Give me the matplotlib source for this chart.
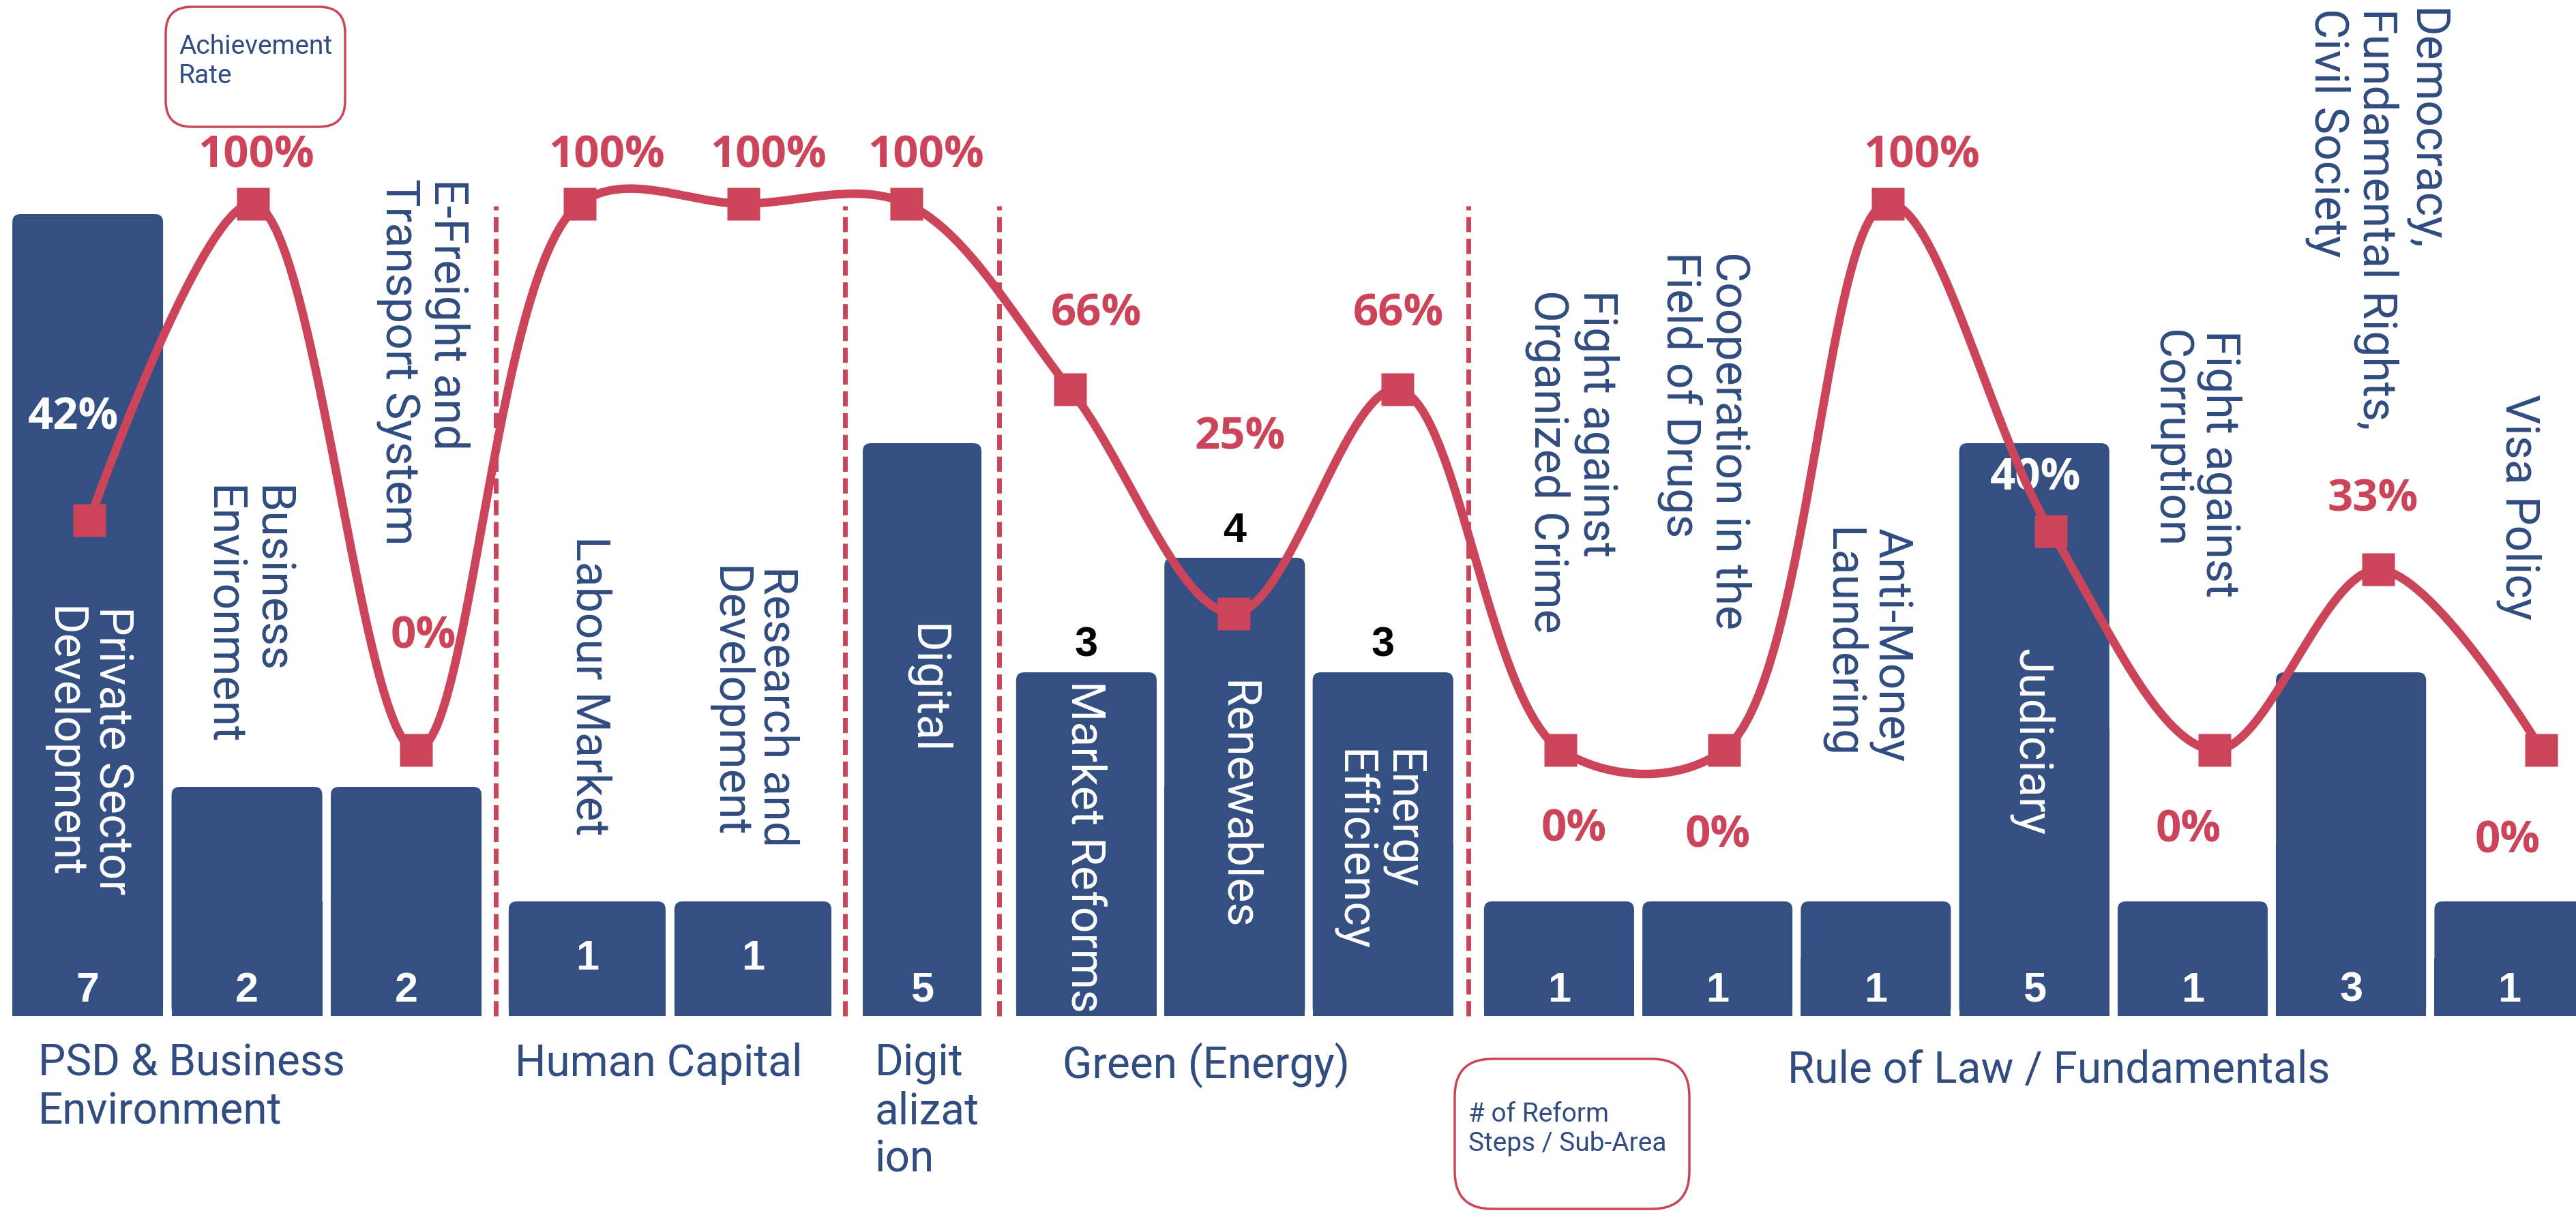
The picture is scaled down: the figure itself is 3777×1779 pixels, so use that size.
import numpy as np
import matplotlib.pyplot as plt
from matplotlib.patches import FancyBboxPatch, Rectangle

# ---- data ----
groups = ["PSD & Business\nEnvironment", "Human Capital", "Digit\nalizat\nion",
          "Green (Energy)", "Rule of Law / Fundamentals"]
group_size = [3, 2, 1, 3, 7]
sub_areas = ["Private Sector\nDevelopment", "Business\nEnvironment",
             "E-Freight and\nTransport System", "Labour Market",
             "Research and\nDevelopment", "Digital", "Market Reforms",
             "Renewables", "Energy\nEfficiency", "Fight against\nOrganized Crime",
             "Cooperation in the\nField of Drugs", "Anti-Money\nLaundering",
             "Judiciary", "Fight against\nCorruption",
             "Democracy,\nFundamental Rights,\nCivil Society", "Visa Policy"]
steps = [7, 2, 2, 1, 1, 5, 3, 4, 3, 1, 1, 1, 5, 1, 3, 1]
rates = [42, 100, 0, 100, 100, 100, 66, 25, 66, 0, 0, 100, 40, 0, 33, 0]

# ---- layout / style ----
W, H = 3777, 1779
NAVY = "#344F81"
TEXT = "#304C80"
RED = "#CC4459"

g_start = [-0.01, 3.045, 5.094, 6.099, 8.99]
g_pitch = [0.974, 1.014, 1.0, 0.907, 0.969]
g_width = [0.922, 0.96, 0.726, 0.86, 0.918]
sep_x = [2.487, 4.622, 5.565, 8.436]

sub_x = [-0.01, 0.96, 2.04, 3.06, 4.06, 5.12, 6.09, 7.02, 7.88, 9.07, 9.88,
         10.87, 11.88, 12.88, 13.99, 14.86]
sub_top = [3.58, 4.63, 7.31, 4.19, 3.93, 3.42, 2.93, 2.93, 2.33, 6.34, 6.67,
           4.26, 3.21, 5.99, 8.80, 5.43]
sub_white = [0, 5, 6, 7, 8, 12]

pct_off = [(-23, 157), (5, 76), (10, 172), (39, 76), (37, 76), (28, 76),
           (38, 117), (9, 264), (2, 117), (19, -111), (-9, -120), (50, 76),
           (-23, 84), (-38, -112), (-8, 109), (-50, -128)]
pct_white = [0, 12]

grp_pos = [(56, 1529), (755, 1529), (1283, 1529), (1558, 1529), (2621, 1539)]

plt.rcParams['font.family'] = ['Roboto', 'DejaVu Sans']

fig = plt.figure(figsize=(W / 100, H / 100), dpi=100)
ax = fig.add_axes([0, 0, 1, 1])
ax.set_xlim(-0.5465, 15.211)
ax.set_ylim(-1.72, 8.869)
ax.axis('off')
ax2 = ax.twinx()
ax2.set_ylim(-84.8, 137.3)
ax2.axis('off')

# bar positions from group layout
xb, wb, gid = [], [], []
for g, n in enumerate(group_size):
    for k in range(n):
        xb.append(g_start[g] + g_pitch[g] * k)
        wb.append(g_width[g])
        gid.append(g)

asp = 239.7 / 168.0
for x, w, h in zip(xb, wb, steps):
    ax.add_patch(FancyBboxPatch((x - w / 2, 0), w, h,
                                boxstyle="round,pad=0,rounding_size=0.05",
                                mutation_aspect=asp, fc=NAVY, ec='none', zorder=2))
    ax.add_patch(Rectangle((x - w / 2, 0), w, h / 2, fc=NAVY, ec='none', zorder=2))

# separators
for sx in sep_x:
    ax.plot([sx, sx], [0, 7.07], color=RED, lw=5, dashes=(3.2, 1.4), zorder=1)

# count labels
for i, (x, h) in enumerate(zip(xb, steps)):
    if gid[i] == 3:
        ax.text(x, h + 0.23, str(h), ha='center', va='center', fontsize=44,
                fontweight='bold', color='black', family='Liberation Sans', zorder=3)
    else:
        yy = 0.5 if gid[i] == 1 else 0.22
        ax.text(x, yy, str(h), ha='center', va='center', fontsize=44,
                fontweight='bold', color='white', family='Liberation Sans', zorder=3)

# sub-area labels
for i, s in enumerate(sub_areas):
    ax.text(sub_x[i], sub_top[i], s, rotation=270, ha='center', va='top',
            multialignment='left', fontsize=49, linespacing=1.1,
            color='white' if i in sub_white else TEXT, zorder=3)


# smooth achievement line: centripetal Catmull-Rom in screen space
def catmull_rom(pts, alpha=0.5, n=40):
    p = np.vstack([pts[0], pts, pts[-1]])
    t = np.linspace(0, 1, n)[:, None]
    out = []
    for k in range(1, len(p) - 2):
        p0, p1, p2, p3 = p[k - 1], p[k], p[k + 1], p[k + 2]
        d01 = np.hypot(*(p1 - p0))
        d12 = np.hypot(*(p2 - p1))
        d23 = np.hypot(*(p3 - p2))
        c1, c2 = p1.copy(), p2.copy()
        if d01 > 1e-9:
            la, l2a, ma, m2a = d01 ** alpha, d01 ** (2 * alpha), d12 ** alpha, d12 ** (2 * alpha)
            a = 2 * l2a + 3 * la * ma + m2a
            nn = 3 * la * (la + ma)
            c1 = (p1 * a - p0 * m2a + p2 * l2a) / nn
        if d23 > 1e-9:
            la, l2a, ma, m2a = d23 ** alpha, d23 ** (2 * alpha), d12 ** alpha, d12 ** (2 * alpha)
            b = 2 * l2a + 3 * la * ma + m2a
            mm = 3 * la * (la + ma)
            c2 = (p2 * b + p1 * l2a - p3 * m2a) / mm
        seg = ((1 - t) ** 3) * p1 + 3 * ((1 - t) ** 2) * t * c1 \
            + 3 * (1 - t) * t ** 2 * c2 + t ** 3 * p2
        out.append(seg)
    return np.vstack(out)


xi = np.arange(len(rates), dtype=float)
yi = np.array(rates, dtype=float)
scr = ax2.transData.transform(np.column_stack([xi, yi]))
curve = ax2.transData.inverted().transform(catmull_rom(scr))
ax2.plot(curve[:, 0], curve[:, 1], color=RED, lw=9, zorder=5,
         solid_capstyle='butt')
ax2.plot(xi, yi, ls='none', marker='s', ms=34, mfc=RED, mec='none', zorder=6)

for i, r in enumerate(rates):
    dx, dy = pct_off[i]
    ax2.annotate(f"{r}%", (i, r), xytext=(dx, dy - 23), textcoords='offset pixels',
                 ha='center', va='baseline', fontsize=47, fontweight='bold',
                 family='Open Sans',
                 color='white' if i in pct_white else RED, zorder=4)

# group labels
for (gx, gy), s in zip(grp_pos, groups):
    fig.text(gx / W, 1 - gy / H, s, ha='left', va='top', fontsize=46,
             linespacing=1.17, color=TEXT)


def callout(x0, y0, x1, y1, r, s, tx, ty):
    fig.patches.append(FancyBboxPatch(
        (x0 / W, 1 - y1 / H), (x1 - x0) / W, (y1 - y0) / H,
        boxstyle=f"round,pad=0,rounding_size={r / W}", mutation_aspect=W / H,
        transform=fig.transFigure, fc='white', ec=RED, lw=2.5, figure=fig))
    fig.text(tx / W, 1 - ty / H, s, ha='left', va='top', fontsize=28,
             linespacing=1.2, color=TEXT)


callout(243, 10, 506, 186, 38, "Achievement\nRate", 262, 50)
callout(2133, 1553, 2477, 1773, 55, "# of Reform\nSteps / Sub-Area", 2153, 1616)

fig.savefig("out.png", dpi=100)
